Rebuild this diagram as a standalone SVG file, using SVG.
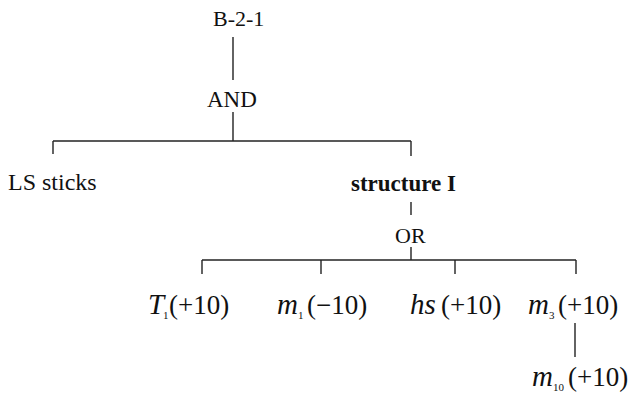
<svg xmlns="http://www.w3.org/2000/svg" width="632" height="396" viewBox="0 0 632 396">
<style>
.lbl{font-size:23px}
.m{font-size:27px}
.i{font-style:italic;font-size:29px}
.sub{font-size:11px}
#connectors line{stroke:#222;stroke-width:1.4;fill:none}
</style>
<rect width="632" height="396" fill="#fff"/>
<g id="connectors">
<line x1="233" y1="37" x2="233" y2="80"/>
<line x1="233" y1="112" x2="233" y2="141"/>
<line x1="53" y1="141" x2="411" y2="141"/>
<line x1="53" y1="141" x2="53" y2="154"/>
<line x1="411" y1="141" x2="411" y2="156"/>
<line x1="411" y1="202" x2="411" y2="215"/>
<line x1="411" y1="247" x2="411" y2="260"/>
<line x1="202" y1="260" x2="576" y2="260"/>
<line x1="202" y1="260" x2="202" y2="274"/>
<line x1="321" y1="260" x2="321" y2="274"/>
<line x1="455" y1="260" x2="455" y2="274"/>
<line x1="576" y1="260" x2="576" y2="274"/>
<line x1="575" y1="323" x2="575" y2="357"/>
</g>
<g font-family="'Liberation Serif', 'DejaVu Serif', serif" fill="#111">
<g id="n-b21"><text x="213" y="26" font-size="22">B-2-1</text></g>
<g id="n-and"><text class="lbl" x="207" y="107">AND</text></g>
<g id="n-ls"><text x="8" y="190" font-size="24">LS sticks</text></g>
<g id="n-struct"><text class="lbl" x="351" y="191" font-weight="bold">structure I</text></g>
<g id="n-or"><text x="395" y="243" font-size="22">OR</text></g>
<g id="n-t1"><text class="m" y="314"><tspan class="i" x="148">T</tspan><tspan class="sub" x="163" y="319">1</tspan><tspan x="169" y="314">(+10)</tspan></text></g>
<g id="n-m1"><text class="m" y="314"><tspan class="i" x="277">m</tspan><tspan class="sub" x="298" y="319">1</tspan><tspan x="307" y="314">(−10)</tspan></text></g>
<g id="n-hs"><text class="m" y="314"><tspan class="i" x="410">hs</tspan><tspan x="441">(+10)</tspan></text></g>
<g id="n-m3"><text class="m" y="314"><tspan class="i" x="528">m</tspan><tspan class="sub" x="549" y="319">3</tspan><tspan x="558" y="314">(+10)</tspan></text></g>
<g id="n-m10"><text class="m" y="386"><tspan class="i" x="532">m</tspan><tspan class="sub" x="553" y="391">10</tspan><tspan x="568" y="386">(+10)</tspan></text></g>
</g>
</svg>
